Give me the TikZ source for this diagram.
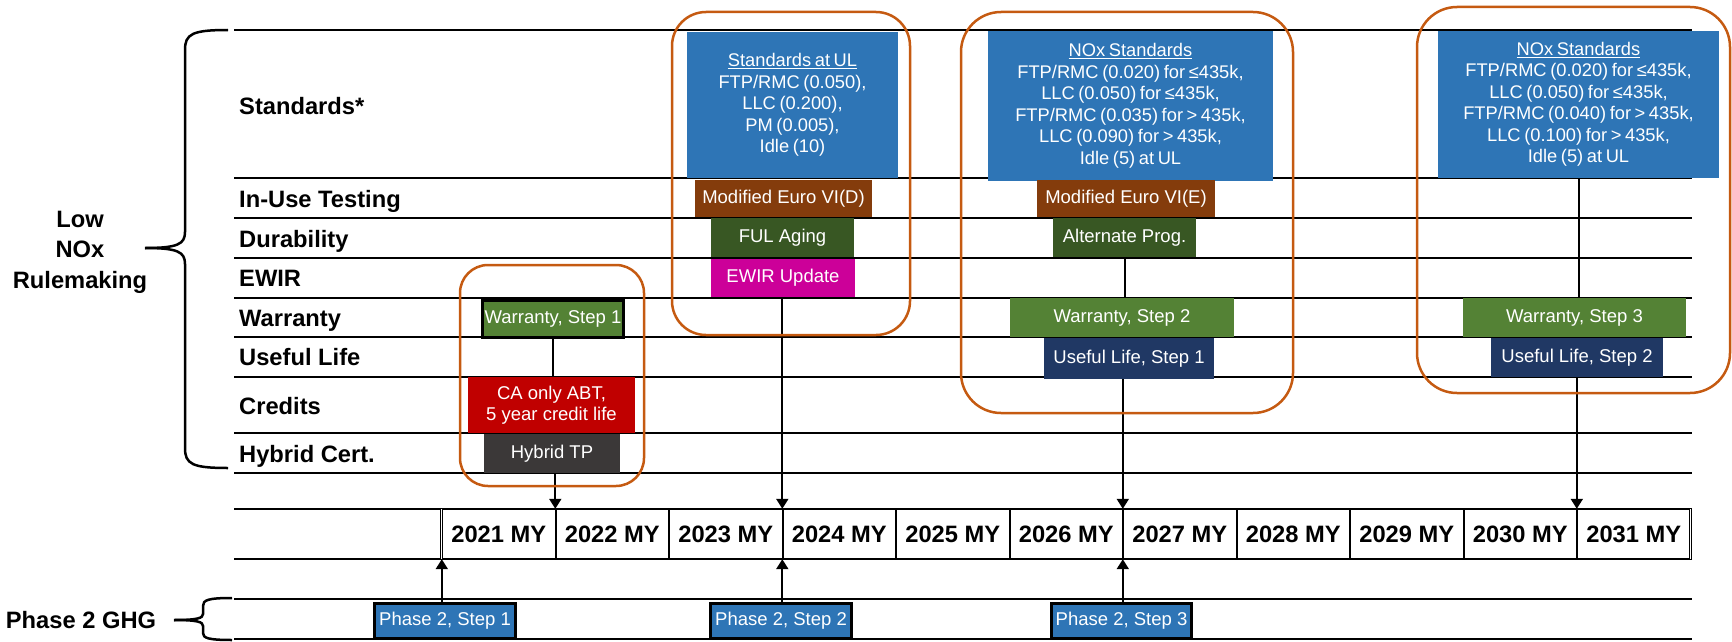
\documentclass[tikz,border=0pt]{standalone}
\usepackage{fontspec}
\setmainfont{Liberation Sans}
\usepackage{xcolor}
\usetikzlibrary{arrows.meta,positioning,calc}

\definecolor{stdblue}{HTML}{2E75B6}
\definecolor{iutbrown}{HTML}{843C0C}
\definecolor{durgreen}{HTML}{385723}
\definecolor{ewirpink}{HTML}{CC0099}
\definecolor{wargreen}{HTML}{548235}
\definecolor{ulnavy}{HTML}{203864}
\definecolor{credred}{HTML}{C00000}
\definecolor{hybgray}{HTML}{3B3838}
\definecolor{grporange}{HTML}{C55A11}

\begin{document}
\begin{tikzpicture}[x=1pt, y=-1pt,
        rowlbl/.style={anchor=west, inner sep=0pt, font=\fontsize{23.7}{28}\selectfont\bfseries,
                       text height=17pt, text depth=0pt},
        grplbl/.style={align=center, inner sep=0pt, font=\fontsize{23.7}{30.5}\selectfont\bfseries},
        yearcell/.style={minimum width=113.5pt, minimum height=50pt, inner sep=0pt,
                         font=\fontsize{23.7}{28}\selectfont\bfseries},
        tag/.style={rectangle, inner sep=0pt, align=center, text=white,
                    font=\fontsize{18.5}{21.5}\selectfont},
        stdtag/.style={tag, fill=stdblue, font=\fontsize{18.3}{21.5}\selectfont,
                       execute at begin node={\spaceskip=3.6pt\relax}},
        boxed/.style={draw=black, line width=3pt},
        dims/.style 2 args={minimum width=#1pt, minimum height=#2pt},
        rowline/.style={line width=1.4pt, black},
        divline/.style={line width=2pt, black},
        enddiv/.style={double, double distance=1.2pt, line width=0.8pt, black},
        link/.style={line width=2pt, black},
        arr/.style={line width=2pt, black, -{Triangle[length=10pt, width=12pt]}},
        grpframe/.style={draw=grporange, line width=2.5pt},
        brc/.style={line width=2.5pt, black}
    ]
    \useasboundingbox (0,0) rectangle (1732,642);

    %--- Row grid ---
    \foreach \yy in {30,178,218,258,298,337,377,433,473}
        \draw[rowline] (234,\yy) -- (1692,\yy);

    %--- Row labels ---
    \foreach \lbl/\yy [count=\k] in {Standards*/105.5, In-Use Testing/198.5, Durability/239,
            EWIR/278, Warranty/318, Useful Life/357, Credits/406, Hybrid Cert./454}
        \node[rowlbl] (row\k) at (239,\yy) {\lbl};

    %--- Group labels and braces ---
    \node[grplbl] (lownox) at (80,252) {Low\\NOx\\Rulemaking};
    \node[grplbl] (ghg) at (81,620) {Phase 2 GHG};
    \draw[brc] (228,30) .. controls (192,30) and (185,34) .. (185,50) -- (185,232)
        .. controls (185,244) and (178,248) .. (145,248);
    \draw[brc] (145,248) .. controls (178,248) and (185,252) .. (185,264) -- (185,448)
        .. controls (185,464) and (192,468) .. (228,468);
    \draw[brc] (232,598) .. controls (208,598) and (203,600) .. (203,606) -- (203,614)
        .. controls (203,618) and (198,620) .. (174,620);
    \draw[brc] (174,620) .. controls (198,620) and (203,622) .. (203,626) -- (203,633)
        .. controls (203,638) and (208,640) .. (232,640);

    %--- Timeline ---
    \draw[rowline, line width=2.2pt] (234,509) -- (1692,509);
    \draw[rowline] (234,559) -- (1692,559);
    \foreach \yr [count=\i from 0] in {2021,...,2031}
        \node[yearcell] (y\yr) at ({442+113.5*(\i+0.5)},534) {\yr{} MY};
    \foreach \i in {1,...,10}
        \draw[divline] ({442+113.5*\i},509) -- ({442+113.5*\i},559);
    \draw[enddiv] (y2021.north west) -- (y2021.south west);
    \draw[enddiv] (y2031.north east) -- (y2031.south east);

    %--- Phase 2 GHG rows ---
    \draw[rowline] (234,599) -- (1692,599);
    \draw[rowline] (234,639) -- (1692,639);

    %--- Standards boxes ---
    \node[stdtag, dims={211}{146}] (stdul) at (792.5,105)
        {\underline{Standards at UL}\\FTP/RMC (0.050),\\LLC (0.200),\\PM (0.005),\\Idle (10)};
    \node[stdtag, dims={285}{150}] (noxa) at (1130.5,106)
        {\underline{NOx Standards}\\FTP/RMC (0.020) for ≤435k,\\LLC (0.050) for ≤435k,\\
         FTP/RMC (0.035) for > 435k,\\LLC (0.090) for > 435k,\\Idle (5) at UL};
    \node[stdtag, dims={281}{147}] (noxb) at (1578.5,104.5)
        {\underline{NOx Standards}\\FTP/RMC (0.020) for ≤435k,\\LLC (0.050) for ≤435k,\\
         FTP/RMC (0.040) for > 435k,\\LLC (0.100) for > 435k,\\Idle (5) at UL};

    %--- 2023 column ---
    \node[tag, fill=iutbrown, dims={177}{37}] (eurod) at (783.5,198.5) {Modified Euro VI(D)};
    \node[tag, fill=durgreen, dims={143}{39}] (ful) at (782.5,237.5) {FUL Aging};
    \node[tag, fill=ewirpink, dims={144}{38}] (ewir) at (783,278) {EWIR Update};

    %--- 2026 column ---
    \node[tag, fill=iutbrown, dims={178}{37}] (euroe) at (1126,198.5) {Modified Euro VI(E)};
    \node[tag, fill=durgreen, dims={143}{39}] (altprog) at (1124.5,237.5) {Alternate Prog.};
    \node[tag, fill=wargreen, dims={224}{39}] (war2) at (1122,317.5) {Warranty, Step 2};
    \node[tag, fill=ulnavy, dims={170}{41}] (ul1) at (1129,358.5) {Useful Life, Step 1};

    %--- 2030 column ---
    \node[tag, fill=wargreen, dims={223}{39}] (war3) at (1574.5,317.5) {Warranty, Step 3};
    \node[tag, fill=ulnavy, dims={172}{39}] (ul2) at (1577,357.5) {Useful Life, Step 2};

    %--- 2021 column ---
    \node[tag, fill=wargreen, boxed, dims={141}{37}] (war1) at (553,319) {Warranty, Step 1};
    \node[tag, fill=credred, dims={167}{56}] (cred) at (551.5,405) {CA only ABT,\\5 year credit life};
    \node[tag, fill=hybgray, dims={136}{39}] (hyb) at (552,453.5) {Hybrid TP};

    %--- Phase 2 steps ---
    \node[tag, fill=stdblue, boxed, dims={141}{35}] (ph1) at (445,621) {Phase 2, Step 1};
    \node[tag, fill=stdblue, boxed, dims={141}{35}] (ph2) at (781,621) {Phase 2, Step 2};
    \node[tag, fill=stdblue, boxed, dims={140}{35}] (ph3) at (1121.5,621) {Phase 2, Step 3};

    %--- Connectors ---
    \draw[link] (war1.south) -- (war1.south |- cred.north);
    \draw[link] (altprog.south) -- (altprog.south |- war2.north);
    \draw[link] (noxb.south) -- (noxb.south |- war3.north);
    \draw[arr] (y2022.north west |- hyb.south) -- (y2022.north west);
    \draw[arr] (y2024.north west |- ewir.south) -- (y2024.north west);
    \draw[arr] (y2027.north west |- ul1.south) -- (y2027.north west);
    \draw[arr] (y2031.north west |- ul2.south) -- (y2031.north west);
    \draw[arr] (y2021.south west |- ph1.north) -- (y2021.south west);
    \draw[arr] (y2024.south west |- ph2.north) -- (y2024.south west);
    \draw[arr] (y2027.south west |- ph3.north) -- (y2027.south west);

    %--- Group frames ---
    \draw[grpframe, rounded corners=28pt] (460,265) rectangle (644,486);
    \draw[grpframe, rounded corners=34pt] (672,12) rectangle (910,335);
    \draw[grpframe, rounded corners=40pt] (961,12) rectangle (1293,413);
    \draw[grpframe, rounded corners=40pt] (1417,7) rectangle (1730,393);
\end{tikzpicture}
\end{document}
